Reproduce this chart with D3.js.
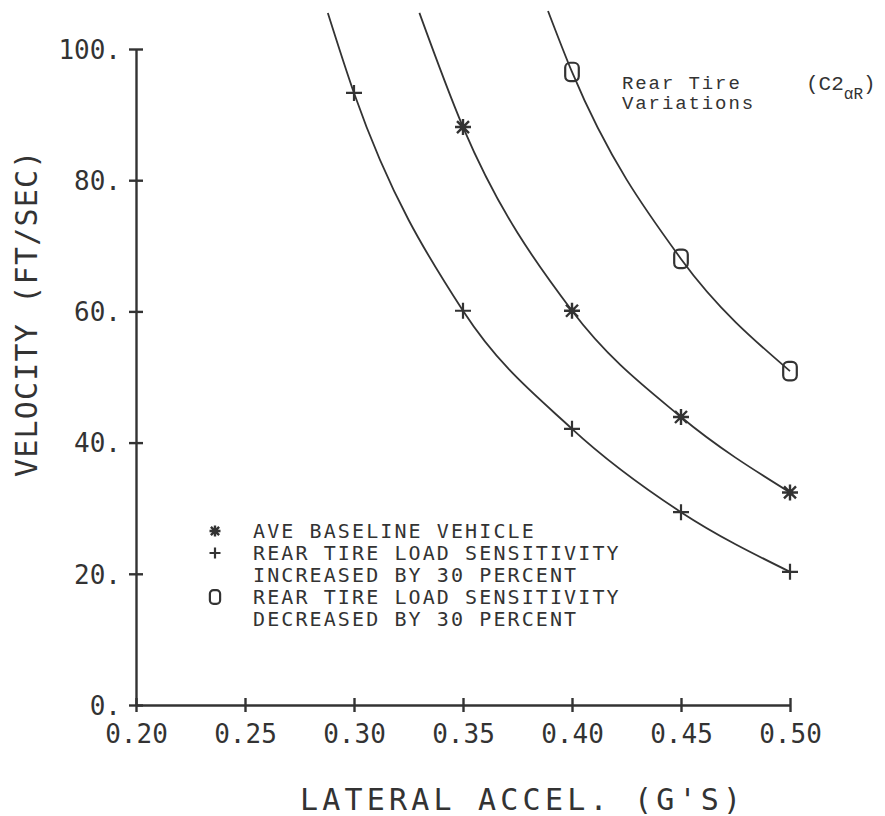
<!DOCTYPE html>
<html>
<head>
<meta charset="utf-8">
<script src="https://cdn.jsdelivr.net/npm/d3@7"></script>
<style>
  body { margin: 0; background: #fff; }
  svg { display: block; }
</style>
</head>
<body>
<div id="svg-container"></div>
<script>
// waarden
const plusAccel = [0.30, 0.35, 0.40, 0.45, 0.50]
const plusVel = [93.3, 60.1, 42.1, 29.4, 20.3]
const starAccel = [0.35, 0.40, 0.45, 0.50]
const starVel = [88.1, 60.1, 43.9, 32.4]
const ovalAccel = [0.40, 0.45, 0.50]
const ovalVel = [96.5, 68.0, 50.9]
// waar de pen van elke lijn begint (boven het kader)
const lineStartAccel = [0.288, 0.330, 0.389]
const lineStartVel = [105.5, 105.5, 105.8]

const xTicks = [0.20, 0.25, 0.30, 0.35, 0.40, 0.45, 0.50]
const yTicks = [0, 20, 40, 60, 80, 100]
const legendLabels = [
  ['star', 'AVE BASELINE VEHICLE'],
  ['plus', 'REAR TIRE LOAD SENSITIVITY'],
  [null, 'INCREASED BY 30 PERCENT'],
  ['oval', 'REAR TIRE LOAD SENSITIVITY'],
  [null, 'DECREASED BY 30 PERCENT']
]

const width = 885, height = 816
const ink = '#333'
const plotFont = "'DejaVu Sans Mono', monospace"

const svg = d3.select('#svg-container').append('svg')
  .attr('width', width).attr('height', height)

const x = d3.scaleLinear().domain([0.2, 0.5]).range([136, 790])
const y = d3.scaleLinear().domain([0, 100]).range([705, 49])

// assen
const yAxis = svg.append('g')
  .attr('transform', `translate(${x(0.2)},0)`)
  .call(d3.axisLeft(y).tickValues(yTicks).tickSize(7).tickSizeOuter(0).tickFormat(d => d + '.'))
yAxis.selectAll('.tick line').attr('x1', 7)
yAxis.selectAll('.tick text').attr('x', -15).attr('dy', '0.36em')

const xAxis = svg.append('g')
  .attr('transform', `translate(0,${y(0)})`)
  .call(d3.axisBottom(x).tickValues(xTicks).tickSize(7).tickSizeOuter(0).tickFormat(d3.format('.2f')))
xAxis.selectAll('.tick line').attr('y1', -7)
xAxis.selectAll('.tick text').attr('y', 38).attr('dy', null)

svg.selectAll('.domain, .tick line').attr('stroke', ink).attr('stroke-width', 2.4)
svg.selectAll('.tick text')
  .attr('fill', ink).style('font-family', plotFont).style('font-size', '26px')

// as titels
svg.append('text')
  .attr('x', 300).attr('y', 810)
  .attr('fill', ink).style('font-family', plotFont).style('font-size', '30px')
  .style('letter-spacing', '4.2px')
  .text("LATERAL ACCEL. (G'S)")

svg.append('text')
  .attr('transform', 'translate(37,477) rotate(-90)')
  .attr('fill', ink).style('font-family', plotFont).style('font-size', '30px')
  .style('letter-spacing', '1.2px')
  .text('VELOCITY (FT/SEC)')

// lijnen
const line = d3.line().x(d => x(d[0])).y(d => y(d[1])).curve(d3.curveMonotoneX)
const series = [
  { accel: plusAccel, vel: plusVel, mark: 'plus' },
  { accel: starAccel, vel: starVel, mark: 'star' },
  { accel: ovalAccel, vel: ovalVel, mark: 'oval' }
]
series.forEach((s, i) => {
  const pts = [[lineStartAccel[i], lineStartVel[i]]].concat(s.accel.map((a, j) => [a, s.vel[j]]))
  svg.append('path').datum(pts)
    .attr('d', line)
    .attr('fill', 'none').attr('stroke', ink).attr('stroke-width', 1.8)
})

// markers
function drawMark(g, type, size) {
  const r = size
  if (type === 'plus') {
    g.append('path').attr('d', `M${-r},0H${r}M0,${-r}V${r}`)
      .attr('stroke', ink).attr('stroke-width', 2.2).attr('fill', 'none')
  } else if (type === 'star') {
    const d = r * 0.75
    g.append('path')
      .attr('d', `M${-r},0H${r}M0,${-r}V${r}M${-d},${-d}L${d},${d}M${-d},${d}L${d},${-d}`)
      .attr('stroke', ink).attr('stroke-width', 2.4).attr('fill', 'none')
    g.append('circle').attr('r', r * 0.4).attr('fill', ink)
  } else if (type === 'oval') {
    g.append('rect')
      .attr('x', -r * 0.85).attr('y', -r * 1.15)
      .attr('width', r * 1.7).attr('height', r * 2.3)
      .attr('rx', r * 0.6)
      .attr('stroke', ink).attr('stroke-width', 2.2).attr('fill', 'none')
  }
}

series.forEach(s => {
  s.accel.forEach((a, j) => {
    const g = svg.append('g').attr('transform', `translate(${x(a)},${y(s.vel[j])})`)
    drawMark(g, s.mark, 8)
  })
})

// legenda
const legend = svg.append('g').attr('transform', 'translate(215,538)')
legendLabels.forEach((row, i) => {
  const g = legend.append('g').attr('transform', `translate(0,${i * 22})`)
  if (row[0]) drawMark(g.append('g').attr('transform', 'translate(0,-7)'), row[0], row[0] === 'oval' ? 6 : 5.5)
  g.append('text')
    .attr('x', 38).attr('y', 0)
    .attr('fill', ink).style('font-family', plotFont).style('font-size', '20px')
    .style('letter-spacing', '2.1px')
    .text(row[1])
})

// notitie rechtsboven
const typeFont = "'Liberation Mono', 'Courier New', monospace"
const note = svg.append('g').attr('fill', ink)
  .style('font-family', typeFont).style('font-size', '19px').style('letter-spacing', '1.9px')
note.append('text').attr('x', 622).attr('y', 89).text('Rear Tire')
note.append('text').attr('x', 622).attr('y', 109).text('Variations')
const sym = svg.append('text').attr('x', 806).attr('y', 90).attr('fill', ink)
  .style('font-family', typeFont).style('font-size', '21px')
sym.append('tspan').text('(C2')
sym.append('tspan').attr('dy', 9).style('font-size', '16px').text('\u03b1R')
sym.append('tspan').attr('dy', -9).text(')')
</script>
</body>
</html>
